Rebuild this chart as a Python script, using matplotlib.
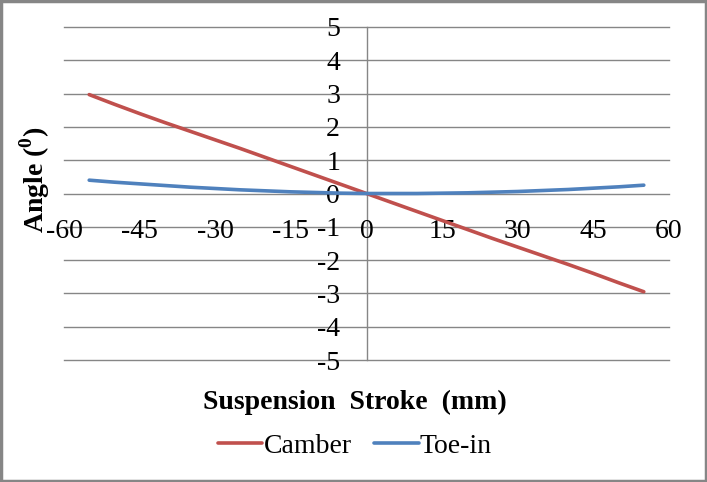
import numpy as np
import matplotlib
matplotlib.use("Agg")
import matplotlib.pyplot as plt
from matplotlib.patches import Rectangle

plt.rcParams['font.family'] = ['Liberation Serif', 'DejaVu Serif']
plt.rcParams['mathtext.fontset'] = 'custom'
plt.rcParams['mathtext.rm'] = 'Liberation Serif'
plt.rcParams['mathtext.bf'] = 'Liberation Serif:bold'
plt.rcParams['axes.unicode_minus'] = False

# suspension stroke (mm)
stroke = [-55, -50, -45, -40, -35, -30, -25, -20, -15, -10, -5, 0,
          5, 10, 15, 20, 25, 30, 35, 40, 45, 50, 55]
# camber angle (deg)
camber = [2.97, 2.68, 2.40, 2.13, 1.87, 1.61, 1.35, 1.08, 0.81, 0.54, 0.27, 0.0,
          -0.27, -0.54, -0.81, -1.08, -1.35, -1.61, -1.87, -2.13, -2.40, -2.68, -2.95]
# toe-in angle (deg)
toe_in = [0.40, 0.34, 0.29, 0.24, 0.19, 0.15, 0.11, 0.08, 0.05, 0.03, 0.01, 0.0,
          0.0, 0.0, 0.01, 0.02, 0.04, 0.06, 0.09, 0.12, 0.16, 0.20, 0.25]

xticks = [-60, -45, -30, -15, 0, 15, 30, 45, 60]
yticks = [-5, -4, -3, -2, -1, 0, 1, 2, 3, 4, 5]

grid_c = '#868686'
fs = 20

fig = plt.figure(figsize=(7.07, 4.82), dpi=100)
ax = fig.add_axes([64/707, 122/482, 605/707, 333/482])

for y in yticks:
    ax.axhline(y, color=grid_c, lw=1.0, zorder=1, clip_on=False)
ax.axvline(0, color=grid_c, lw=1.0, zorder=1, clip_on=False)

ax.plot(stroke, camber, color='#C0504D', lw=2.6, label='Camber', zorder=3,
        solid_capstyle='round')
ax.plot(stroke, toe_in, color='#4F81BD', lw=2.6, label='Toe-in', zorder=3,
        solid_capstyle='round')

ax.set_xlim(-60, 60)
ax.set_ylim(-5, 5)
for s in ['top', 'right']:
    ax.spines[s].set_visible(False)
ax.spines['left'].set_position(('data', 0))
ax.spines['bottom'].set_position(('data', 0))
ax.spines['left'].set_visible(False)
ax.spines['bottom'].set_visible(False)

ax.set_xticks(xticks)
ax.set_yticks(yticks)
ax.tick_params(axis='both', length=0, labelsize=fs)
ax.tick_params(axis='y', pad=19)
ax.tick_params(axis='x', pad=18)

fig.text(35/707, 1 - 180/482, r'Angle ($^{\mathbf{0}}$)', rotation=90,
         ha='center', va='center', fontsize=fs, fontweight='bold')
fig.text(355/707, 1 - 402/482, 'Suspension  Stroke  (mm)',
         ha='center', va='center', fontsize=fs, fontweight='bold')

fig.legend(loc='center', bbox_to_anchor=(355/707, 1 - 446/482), ncol=2,
           frameon=False, fontsize=fs, handlelength=1.6, handletextpad=0.05,
           columnspacing=0.8)

fig.patches.append(Rectangle((0.001, 0.002), 0.997, 0.995, transform=fig.transFigure,
                             fill=False, edgecolor='#868686', lw=2.5))

fig.savefig('out.png', dpi=100)
